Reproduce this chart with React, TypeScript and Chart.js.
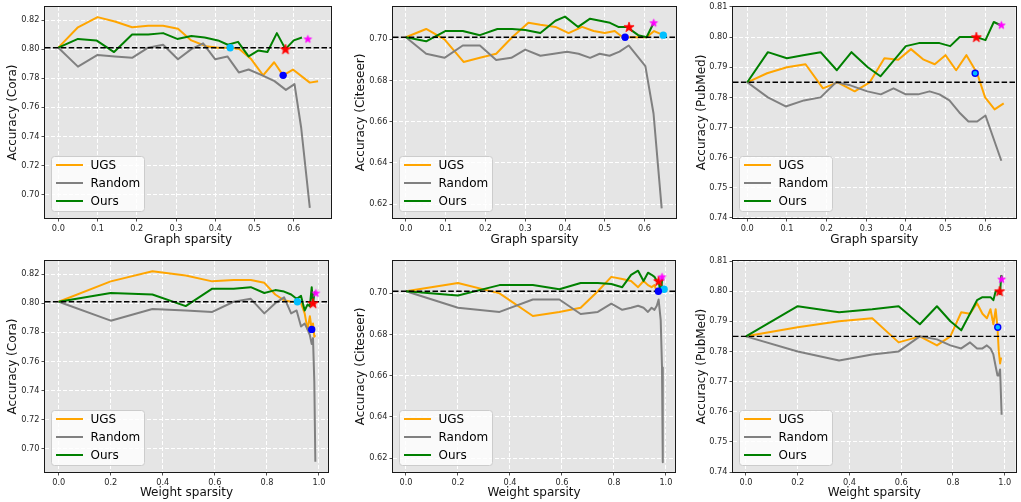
import React, { useEffect, useRef } from "react";
import { Chart, registerables } from "chart.js";

Chart.register(...registerables);

// ---------------- tick labels ----------------
const GRAPH_TICKS = [0, 0.1, 0.2, 0.3, 0.4, 0.5, 0.6];
const WEIGHT_TICKS = [0, 0.2, 0.4, 0.6, 0.8, 1.0];
const CORA_TICKS = [0.7, 0.72, 0.74, 0.76, 0.78, 0.8, 0.82];
const CITE_TICKS = [0.62, 0.64, 0.66, 0.68, 0.7];
const PUB_TICKS = [0.74, 0.75, 0.76, 0.77, 0.78, 0.79, 0.8, 0.81];

const LEGEND_LABELS = ["UGS", "Random", "Ours"];

// ---------------- baselines ----------------
const CORA_BASE = 0.801;
const CITE_BASE = 0.701;
const PUB_BASE = 0.785;

// ---------------- Cora ----------------
const CORA_UGS_GX = [0, 0.05, 0.1, 0.144, 0.188, 0.229, 0.267, 0.305, 0.339, 0.377, 0.407, 0.438, 0.462, 0.492, 0.522, 0.55, 0.573, 0.598, 0.641, 0.662];
const CORA_UGS_WX = [0, 0.2, 0.36, 0.488, 0.59, 0.672, 0.738, 0.79, 0.832, 0.866, 0.893, 0.914, 0.931, 0.945, 0.956, 0.965, 0.972, 0.977, 0.982, 0.986];
const CORA_UGS_ACC = [0.801, 0.815, 0.822, 0.819, 0.815, 0.816, 0.816, 0.814, 0.806, 0.802, 0.801, 0.801, 0.8, 0.793, 0.782, 0.791, 0.782, 0.786, 0.777, 0.778];

const CORA_RND_GX = [0, 0.05, 0.1, 0.144, 0.188, 0.229, 0.267, 0.305, 0.339, 0.369, 0.4, 0.431, 0.46, 0.485, 0.52, 0.551, 0.58, 0.602, 0.619, 0.641];
const CORA_RND_WX = [0, 0.2, 0.36, 0.488, 0.59, 0.672, 0.738, 0.79, 0.832, 0.866, 0.893, 0.914, 0.931, 0.945, 0.956, 0.965, 0.972, 0.977, 0.982, 0.986];
const CORA_RND_ACC = [0.801, 0.788, 0.796, 0.795, 0.794, 0.801, 0.803, 0.793, 0.8, 0.804, 0.793, 0.795, 0.784, 0.786, 0.782, 0.778, 0.772, 0.776, 0.746, 0.691];

const CORA_OURS_GX = [0, 0.05, 0.097, 0.142, 0.188, 0.229, 0.267, 0.303, 0.339, 0.373, 0.407, 0.432, 0.458, 0.485, 0.509, 0.533, 0.557, 0.579, 0.6, 0.621];
const CORA_OURS_WX = [0, 0.2, 0.36, 0.488, 0.59, 0.672, 0.738, 0.79, 0.832, 0.866, 0.893, 0.914, 0.931, 0.945, 0.956, 0.965, 0.972, 0.977, 0.982, 0.986];
const CORA_OURS_ACC = [0.801, 0.807, 0.806, 0.798, 0.81, 0.81, 0.811, 0.807, 0.809, 0.808, 0.806, 0.803, 0.805, 0.795, 0.799, 0.798, 0.811, 0.8, 0.806, 0.808];

const CORA_MARK_GX = [0.438, 0.573, 0.579, 0.636];
const CORA_MARK_WX = [0.917, 0.972, 0.977, 0.988];
const CORA_MARK_ACC = [0.801, 0.782, 0.8, 0.807];

// ---------------- Citeseer ----------------
const CITE_UGS_GX = [0, 0.051, 0.097, 0.145, 0.186, 0.227, 0.267, 0.308, 0.338, 0.376, 0.409, 0.443, 0.472, 0.5, 0.525, 0.545, 0.567, 0.605, 0.624, 0.647];
const CITE_UGS_WX = [0, 0.2, 0.36, 0.488, 0.59, 0.672, 0.738, 0.79, 0.832, 0.866, 0.893, 0.914, 0.931, 0.945, 0.956, 0.965, 0.972, 0.977, 0.982, 0.986];
const CITE_UGS_ACC = [0.701, 0.705, 0.7, 0.689, 0.691, 0.693, 0.701, 0.708, 0.707, 0.706, 0.703, 0.706, 0.704, 0.703, 0.704, 0.701, 0.701, 0.701, 0.704, 0.702];

const CITE_RND_GX = [0, 0.051, 0.097, 0.143, 0.186, 0.227, 0.265, 0.3, 0.338, 0.372, 0.405, 0.434, 0.463, 0.487, 0.512, 0.537, 0.56, 0.602, 0.6225, 0.643];
const CITE_RND_WX = [0, 0.2, 0.36, 0.488, 0.59, 0.672, 0.738, 0.79, 0.832, 0.866, 0.893, 0.914, 0.931, 0.945, 0.956, 0.965, 0.972, 0.98, 0.985, 0.988];
const CITE_RND_ACC = [0.701, 0.693, 0.691, 0.697, 0.697, 0.69, 0.691, 0.695, 0.692, 0.693, 0.694, 0.693, 0.691, 0.693, 0.692, 0.694, 0.697, 0.687, 0.664, 0.618];

const CITE_OURS_GX = [0, 0.051, 0.099, 0.143, 0.186, 0.23, 0.267, 0.3, 0.338, 0.376, 0.4, 0.433, 0.463, 0.488, 0.513, 0.534, 0.555, 0.584, 0.605, 0.623];
const CITE_OURS_WX = [0, 0.2, 0.36, 0.488, 0.59, 0.672, 0.738, 0.79, 0.832, 0.866, 0.893, 0.914, 0.931, 0.945, 0.956, 0.965, 0.972, 0.977, 0.982, 0.986];
const CITE_OURS_ACC = [0.701, 0.699, 0.704, 0.704, 0.702, 0.705, 0.705, 0.7045, 0.703, 0.709, 0.711, 0.706, 0.71, 0.709, 0.708, 0.706, 0.706, 0.702, 0.701, 0.708];

const CITE_MARK_GX = [0.647, 0.551, 0.561, 0.623];
const CITE_MARK_WX = [0.993, 0.971, 0.972, 0.985];
const CITE_MARK_ACC = [0.702, 0.701, 0.706, 0.708];

// ---------------- PubMed ----------------
const PUB_UGS_GX = [0, 0.05, 0.1, 0.147, 0.191, 0.228, 0.271, 0.309, 0.346, 0.381, 0.413, 0.445, 0.473, 0.5, 0.527, 0.553, 0.58, 0.6, 0.624, 0.647];
const PUB_UGS_WX = [0, 0.2, 0.36, 0.488, 0.59, 0.672, 0.738, 0.79, 0.832, 0.866, 0.893, 0.914, 0.931, 0.945, 0.956, 0.965, 0.972, 0.977, 0.982, 0.986];
const PUB_UGS_ACC = [0.785, 0.788, 0.79, 0.791, 0.783, 0.785, 0.782, 0.785, 0.793, 0.7925, 0.796, 0.7925, 0.791, 0.794, 0.789, 0.794, 0.788, 0.78, 0.776, 0.778];

const PUB_RND_GX = [0, 0.052, 0.097, 0.143, 0.185, 0.224, 0.26, 0.303, 0.337, 0.369, 0.4, 0.431, 0.46, 0.485, 0.51, 0.535, 0.558, 0.58, 0.601, 0.641];
const PUB_RND_WX = [0, 0.2, 0.36, 0.488, 0.59, 0.672, 0.738, 0.79, 0.832, 0.866, 0.893, 0.914, 0.931, 0.945, 0.956, 0.965, 0.972, 0.977, 0.982, 0.988];
const PUB_RND_ACC = [0.785, 0.78, 0.777, 0.779, 0.78, 0.785, 0.784, 0.782, 0.781, 0.783, 0.781, 0.781, 0.782, 0.781, 0.779, 0.775, 0.772, 0.772, 0.774, 0.759];

const PUB_OURS_GX = [0, 0.052, 0.1, 0.141, 0.185, 0.226, 0.263, 0.304, 0.336, 0.4, 0.433, 0.46, 0.485, 0.512, 0.536, 0.56, 0.578, 0.601, 0.622, 0.638];
const PUB_OURS_WX = [0, 0.2, 0.36, 0.488, 0.59, 0.672, 0.738, 0.79, 0.832, 0.893, 0.914, 0.931, 0.945, 0.956, 0.965, 0.972, 0.977, 0.982, 0.986, 0.988];
const PUB_OURS_ACC = [0.785, 0.795, 0.793, 0.794, 0.795, 0.789, 0.795, 0.79, 0.787, 0.797, 0.798, 0.798, 0.798, 0.797, 0.8, 0.8, 0.8, 0.799, 0.805, 0.804];

const PUB_MARK_GX = [0.575, 0.578, 0.641];
const PUB_MARK_WX = [0.973, 0.98, 0.988];
const PUB_MARK_ACC = [0.788, 0.8, 0.804];

// ---------------- assembly ----------------
const DATA: any = {
  cora: {
    name: "Cora", base: CORA_BASE, yTicks: CORA_TICKS, yMin: 0.684, yMax: 0.829,
    ugs: { gx: CORA_UGS_GX, wx: CORA_UGS_WX, acc: CORA_UGS_ACC },
    rnd: { gx: CORA_RND_GX, wx: CORA_RND_WX, acc: CORA_RND_ACC },
    ours: { gx: CORA_OURS_GX, wx: CORA_OURS_WX, acc: CORA_OURS_ACC },
    mark: { gx: CORA_MARK_GX, wx: CORA_MARK_WX, acc: CORA_MARK_ACC },
    markKinds: ["cyan", "blue", "red", "magenta"],
  },
  cite: {
    name: "Citeseer", base: CITE_BASE, yTicks: CITE_TICKS, yMin: 0.6133, yMax: 0.7157,
    ugs: { gx: CITE_UGS_GX, wx: CITE_UGS_WX, acc: CITE_UGS_ACC },
    rnd: { gx: CITE_RND_GX, wx: CITE_RND_WX, acc: CITE_RND_ACC },
    ours: { gx: CITE_OURS_GX, wx: CITE_OURS_WX, acc: CITE_OURS_ACC },
    mark: { gx: CITE_MARK_GX, wx: CITE_MARK_WX, acc: CITE_MARK_ACC },
    markKinds: ["cyan", "blue", "red", "magenta"],
  },
  pub: {
    name: "PubMed", base: PUB_BASE, yTicks: PUB_TICKS, yMin: 0.74, yMax: 0.81,
    ugs: { gx: PUB_UGS_GX, wx: PUB_UGS_WX, acc: PUB_UGS_ACC },
    rnd: { gx: PUB_RND_GX, wx: PUB_RND_WX, acc: PUB_RND_ACC },
    ours: { gx: PUB_OURS_GX, wx: PUB_OURS_WX, acc: PUB_OURS_ACC },
    mark: { gx: PUB_MARK_GX, wx: PUB_MARK_WX, acc: PUB_MARK_ACC },
    markKinds: ["ring", "red", "magenta"],
  },
};

const PANELS = [
  { id: "p1", ds: "cora", mode: "graph", left: 0, top: 0, w: 340, h: 250, area: { l: 45, r: 331, t: 5, b: 218 }, xMin: -0.034, xMax: 0.695, yTitleX: 13.3, xTitleY: 240 },
  { id: "p2", ds: "cite", mode: "graph", left: 340, top: 0, w: 340, h: 250, area: { l: 53, r: 338, t: 5, b: 218 }, xMin: -0.0324, xMax: 0.679, yTitleX: 20.7, xTitleY: 240 },
  { id: "p3", ds: "pub", mode: "graph", left: 680, top: 0, w: 341, h: 250, area: { l: 53, r: 340, t: 5, b: 218 }, xMin: -0.036, xMax: 0.677, yTitleX: 21.7, xTitleY: 240 },
  { id: "p4", ds: "cora", mode: "weight", left: 0, top: 250, w: 340, h: 252, area: { l: 45, r: 328, t: 11, b: 222 }, xMin: -0.0526, xMax: 1.0346, yTitleX: 13.3, xTitleY: 243.3 },
  { id: "p5", ds: "cite", mode: "weight", left: 340, top: 250, w: 340, h: 252, area: { l: 53, r: 335, t: 11, b: 222 }, xMin: -0.05, xMax: 1.035, yTitleX: 20.7, xTitleY: 243.3 },
  { id: "p6", ds: "pub", mode: "weight", left: 680, top: 250, w: 341, h: 252, area: { l: 53, r: 337, t: 11, b: 222 }, xMin: -0.05, xMax: 1.042, yTitleX: 21.7, xTitleY: 243.3 },
];

const FONT = '"DejaVu Sans", "Liberation Sans", sans-serif';
const C_UGS = "#ffa500";
const C_RND = "#808080";
const C_OURS = "#008000";
const PLOT_BG = "#e5e5e5";

function makeStar(color: string, r: number): HTMLCanvasElement {
  const size = Math.ceil(r * 2 + 3);
  const c = document.createElement("canvas");
  c.width = size;
  c.height = size;
  const g = c.getContext("2d")!;
  const cx = size / 2;
  const cy = size / 2 + r * 0.08;
  const ri = r * 0.4;
  g.beginPath();
  for (let i = 0; i < 10; i++) {
    const a = -Math.PI / 2 + (i * Math.PI) / 5;
    const rr = i % 2 === 0 ? r : ri;
    const px = cx + rr * Math.cos(a);
    const py = cy + rr * Math.sin(a);
    if (i === 0) g.moveTo(px, py);
    else g.lineTo(px, py);
  }
  g.closePath();
  g.fillStyle = color;
  g.fill();
  g.lineWidth = 0.8;
  g.strokeStyle = color;
  g.lineJoin = "miter";
  g.stroke();
  return c;
}

const bgPlugin = {
  id: "plotBg",
  beforeDraw(chart: any) {
    const { ctx, chartArea: a } = chart;
    ctx.save();
    ctx.fillStyle = PLOT_BG;
    ctx.fillRect(a.left, a.top, a.right - a.left, a.bottom - a.top);
    ctx.restore();
  },
};

const framePlugin = {
  id: "frameLegend",
  afterDraw(chart: any) {
    const { ctx, chartArea: a } = chart;
    ctx.save();
    ctx.strokeStyle = "#1a1a1a";
    ctx.lineWidth = 1;
    ctx.setLineDash([]);
    ctx.strokeRect(Math.round(a.left) - 0.5, Math.round(a.top) - 0.5, Math.round(a.right - a.left) + 1, Math.round(a.bottom - a.top) + 1);

    // legend box
    const w = 93;
    const h = 55;
    const x = Math.round(a.left + 6) + 0.5;
    const y = Math.round(a.bottom - 7 - h) + 0.5;
    const r = 3;
    ctx.beginPath();
    ctx.moveTo(x + r, y);
    ctx.lineTo(x + w - r, y);
    ctx.arcTo(x + w, y, x + w, y + r, r);
    ctx.lineTo(x + w, y + h - r);
    ctx.arcTo(x + w, y + h, x + w - r, y + h, r);
    ctx.lineTo(x + r, y + h);
    ctx.arcTo(x, y + h, x, y + h - r, r);
    ctx.lineTo(x, y + r);
    ctx.arcTo(x, y, x + r, y, r);
    ctx.closePath();
    ctx.fillStyle = "rgba(255,255,255,0.8)";
    ctx.fill();
    ctx.strokeStyle = "#cccccc";
    ctx.stroke();

    const colors = [C_UGS, C_RND, C_OURS];
    ctx.font = `12px ${FONT}`;
    ctx.textBaseline = "middle";
    ctx.textAlign = "left";
    LEGEND_LABELS.forEach((lab, i) => {
      const ry = y + 8.5 + i * 18;
      ctx.beginPath();
      ctx.strokeStyle = colors[i];
      ctx.lineWidth = 2;
      ctx.moveTo(x + 4.5, ry);
      ctx.lineTo(x + 31.5, ry);
      ctx.stroke();
      ctx.fillStyle = "#000";
      ctx.fillText(lab, x + 39, ry + 0.5);
    });
    ctx.restore();
  },
};

function pts(xs: number[], ys: number[]) {
  return xs.map((x, i) => ({ x, y: ys[i] }));
}

function buildConfig(p: any): any {
  const d = DATA[p.ds];
  const graph = p.mode === "graph";
  const xk = graph ? "gx" : "wx";
  const starRed = makeStar("#ff0000", 5.3);
  const starMag = makeStar("#ff00ff", 4.0);

  const kinds: string[] = d.markKinds;
  const markStyle = kinds.map((k) => (k === "red" ? starRed : k === "magenta" ? starMag : "circle"));
  const markBg = kinds.map((k) => (k === "blue" ? "#0000ff" : k === "cyan" || k === "ring" ? "#00bfff" : "#000"));
  const markBorder = kinds.map((k) => (k === "ring" ? "#0000ff" : k === "blue" ? "#0000ff" : "#00bfff"));
  const markBw = kinds.map((k) => (k === "ring" ? 1.4 : 0));
  const markR = kinds.map((k) => (k === "ring" ? 3 : 3.7));

  const lineDs = (label: string, s: any, color: string, order: number) => ({
    type: "line",
    label,
    data: pts(s[xk], s.acc),
    borderColor: color,
    backgroundColor: color,
    borderWidth: 2,
    pointRadius: 0,
    tension: 0,
    borderJoinStyle: "round",
    order,
  });

  const xTicks = graph ? GRAPH_TICKS : WEIGHT_TICKS;
  const a = p.area;

  return {
    type: "line",
    data: {
      datasets: [
        {
          type: "scatter",
          label: "markers",
          data: pts(d.mark[xk], d.mark.acc),
          pointStyle: markStyle,
          pointRadius: markR,
          pointBackgroundColor: markBg,
          pointBorderColor: markBorder,
          pointBorderWidth: markBw,
          showLine: false,
          order: 0,
        },
        {
          type: "line",
          label: "baseline",
          data: [
            { x: p.xMin, y: d.base },
            { x: p.xMax, y: d.base },
          ],
          borderColor: "#000",
          borderWidth: 1.4,
          borderDash: [5.5, 2.4],
          pointRadius: 0,
          order: 1,
        },
        lineDs("Ours", d.ours, C_OURS, 2),
        lineDs("Random", d.rnd, C_RND, 3),
        lineDs("UGS", d.ugs, C_UGS, 4),
      ],
    },
    options: {
      responsive: false,
      animation: false,
      devicePixelRatio: 1,
      events: [],
      layout: { padding: { left: 0, top: a.t, right: p.w - a.r, bottom: 0 } },
      plugins: { legend: { display: false }, tooltip: { enabled: false }, title: { display: false } },
      scales: {
        x: {
          type: "linear",
          min: p.xMin,
          max: p.xMax,
          afterBuildTicks: (s: any) => {
            s.ticks = xTicks.map((v) => ({ value: v }));
          },
          afterFit: (s: any) => {
            s.height = p.h - a.b;
          },
          ticks: {
            autoSkip: false,
            maxRotation: 0,
            padding: 2,
            color: "#262626",
            font: { family: FONT, size: 8.2 },
            callback: (v: any) => Number(v).toFixed(1),
          },
          grid: {
            color: "#ffffff",
            lineWidth: 1,
            drawTicks: true,
            tickLength: 3.5,
            tickColor: "#262626",
            tickWidth: 0.8,
          },
          border: { display: false, dash: [4, 2] },
          title: {
            display: true,
            text: graph ? "Graph sparsity" : "Weight sparsity",
            color: "#111",
            font: { family: FONT, size: 12 },
            padding: { top: 0, bottom: p.h - p.xTitleY - 7.2 },
          },
        },
        y: {
          type: "linear",
          min: d.yMin,
          max: d.yMax,
          afterBuildTicks: (s: any) => {
            s.ticks = d.yTicks.map((v: number) => ({ value: v }));
          },
          afterFit: (s: any) => {
            s.width = a.l;
          },
          ticks: {
            autoSkip: false,
            padding: 2,
            color: "#262626",
            font: { family: FONT, size: 8.2 },
            callback: (v: any) => Number(v).toFixed(2),
          },
          grid: {
            color: "#ffffff",
            lineWidth: 1,
            drawTicks: true,
            tickLength: 3.5,
            tickColor: "#262626",
            tickWidth: 0.8,
          },
          border: { display: false, dash: [4, 2] },
          title: {
            display: true,
            text: `Accuracy (${d.name})`,
            color: "#111",
            font: { family: FONT, size: 12 },
            padding: { top: p.yTitleX - 7.2, bottom: 0 },
          },
        },
      },
    },
    plugins: [bgPlugin, framePlugin],
  };
}

function Panel({ p }: { p: any }) {
  const ref = useRef<HTMLCanvasElement>(null);
  useEffect(() => {
    const chart = new Chart(ref.current as HTMLCanvasElement, buildConfig(p));
    return () => chart.destroy();
  }, []);
  return (
    <canvas
      ref={ref}
      width={p.w}
      height={p.h}
      style={{ position: "absolute", left: p.left, top: p.top, width: p.w, height: p.h }}
    />
  );
}

export default function App() {
  return (
    <div style={{ position: "absolute", left: 0, top: 0, width: 1021, height: 502, background: "#ffffff", overflow: "hidden" }}>
      {PANELS.map((p) => (
        <Panel key={p.id} p={p} />
      ))}
    </div>
  );
}
